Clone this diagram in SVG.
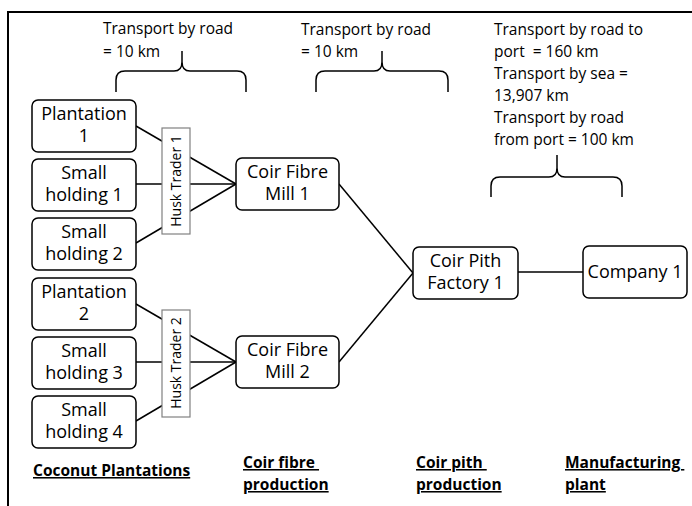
<svg xmlns="http://www.w3.org/2000/svg" width="692" height="506" viewBox="0 0 692 506">
<style>
text{font-family:"Open Sans","Liberation Sans",sans-serif;fill:#000}
.box{fill:#fff;stroke:#000;stroke-width:1.5}
.bt{font-size:18px;text-anchor:middle}
.trader{fill:#fff;stroke:#808080;stroke-width:1.2}
.tt{font-size:14px;text-anchor:middle}
.hdr{font-size:15.5px}
.lbl{font-size:15.5px;font-weight:bold;text-decoration:underline}
.conn{stroke:#000;stroke-width:1.5;fill:none}
.brace{stroke:#000;stroke-width:1.5;fill:none}
</style>
<rect width="692" height="506" fill="#fff"/>
<path d="M8,506 V12 H692" fill="none" stroke="#000" stroke-width="2"/>

<g id="connectors">
<line class="conn" x1="136" y1="126" x2="236" y2="184"/>
<line class="conn" x1="136" y1="184" x2="236" y2="184"/>
<line class="conn" x1="136" y1="243" x2="236" y2="184"/>
<line class="conn" x1="136" y1="304" x2="236" y2="362"/>
<line class="conn" x1="136" y1="362" x2="236" y2="362"/>
<line class="conn" x1="136" y1="421" x2="236" y2="362"/>
<line class="conn" x1="339" y1="184" x2="413" y2="273"/>
<line class="conn" x1="339" y1="362" x2="413" y2="273"/>
<line class="conn" x1="518" y1="272" x2="583" y2="272"/>
</g>

<g id="braces">
<path class="brace" d="M116,92 V80 Q116,71 125,71 H174 Q182,71 182,62 V51 M182,62 Q182,71 190,71 H237 Q246,71 246,80 V92"/>
<path class="brace" d="M316,92 V80 Q316,71 325,71 H374 Q382,71 382,62 V51 M382,62 Q382,71 390,71 H439 Q448,71 448,80 V92"/>
<path class="brace" d="M491,197 V186 Q491,177 500,177 H549 Q557,177 557,168 V155 M557,168 Q557,177 565,177 H613 Q622,177 622,186 V197"/>
</g>

<g id="plantation1"><rect class="box" x="32" y="100" width="104" height="52" rx="6"/><text class="bt" x="84" y="120">Plantation</text><text class="bt" x="84" y="142">1</text></g>
<g id="smallholding1"><rect class="box" x="32" y="159" width="104" height="52" rx="6"/><text class="bt" x="84" y="179">Small</text><text class="bt" x="84" y="201">holding 1</text></g>
<g id="smallholding2"><rect class="box" x="32" y="218" width="104" height="52" rx="6"/><text class="bt" x="84" y="238">Small</text><text class="bt" x="84" y="260">holding 2</text></g>
<g id="plantation2"><rect class="box" x="32" y="278" width="104" height="52" rx="6"/><text class="bt" x="84" y="298">Plantation</text><text class="bt" x="84" y="320">2</text></g>
<g id="smallholding3"><rect class="box" x="32" y="337" width="104" height="52" rx="6"/><text class="bt" x="84" y="357">Small</text><text class="bt" x="84" y="379">holding 3</text></g>
<g id="smallholding4"><rect class="box" x="32" y="396" width="104" height="52" rx="6"/><text class="bt" x="84" y="416">Small</text><text class="bt" x="84" y="438">holding 4</text></g>

<g id="trader1"><rect class="trader" x="162" y="128" width="28" height="106"/><text class="tt" transform="translate(181,181) rotate(-90)">Husk Trader 1</text></g>
<g id="trader2"><rect class="trader" x="162" y="310" width="28" height="107"/><text class="tt" transform="translate(181,363) rotate(-90)">Husk Trader 2</text></g>

<g id="mill1"><rect class="box" x="236" y="158" width="103" height="52" rx="6"/><text class="bt" x="287.5" y="178">Coir Fibre</text><text class="bt" x="287.5" y="200">Mill 1</text></g>
<g id="mill2"><rect class="box" x="236" y="336" width="103" height="52" rx="6"/><text class="bt" x="287.5" y="356">Coir Fibre</text><text class="bt" x="287.5" y="378">Mill 2</text></g>
<g id="factory1"><rect class="box" x="413" y="247" width="105" height="52" rx="6"/><text class="bt" x="465.5" y="267">Coir Pith</text><text class="bt" x="465.5" y="289">Factory 1</text></g>
<g id="company1"><rect class="box" x="583" y="246" width="104" height="52" rx="6"/><text class="bt" x="635" y="278">Company 1</text></g>

<g id="transport-labels">
<text class="hdr" x="103" y="34">Transport by road</text>
<text class="hdr" x="103" y="57">= 10 km</text>
<text class="hdr" x="301" y="35">Transport by road</text>
<text class="hdr" x="301" y="57">= 10 km</text>
<text class="hdr" x="494" y="35">Transport by road to</text>
<text class="hdr" x="494" y="57">port &#160;= 160 km</text>
<text class="hdr" x="494" y="79">Transport by sea =</text>
<text class="hdr" x="494" y="101">13,907 km</text>
<text class="hdr" x="494" y="123">Transport by road</text>
<text class="hdr" x="494" y="145">from port = 100 km</text>
</g>

<g id="stage-labels">
<text class="lbl" x="33" y="476">Coconut Plantations</text>
<text class="lbl" x="243" y="468">Coir fibre&#160;</text>
<text class="lbl" x="243" y="490">production</text>
<text class="lbl" x="416" y="468">Coir pith&#160;</text>
<text class="lbl" x="416" y="490">production</text>
<text class="lbl" x="565" y="468">Manufacturing&#160;</text>
<text class="lbl" x="565" y="490">plant</text>
</g>
</svg>
